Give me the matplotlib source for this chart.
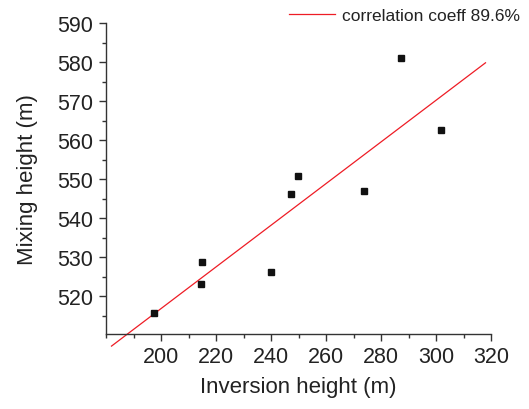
import numpy as np
import matplotlib
matplotlib.use('Agg')
import matplotlib.pyplot as plt
from matplotlib.ticker import MultipleLocator

plt.rcParams['font.family'] = ['Liberation Sans', 'DejaVu Sans']

# data
inversion = [197.5, 214.9, 214.5, 240.0, 247.3, 249.8, 273.8, 287.3, 301.9]
mixing = [515.6, 528.7, 523.1, 526.2, 546.2, 550.8, 546.9, 581.0, 562.6]
fit_x = [182.0, 318.0]
fit_y = [507.2, 579.8]

fig = plt.figure(figsize=(5.29, 4.10), dpi=100)
ax = fig.add_axes([106/529, 1-335/410, (491-106)/529, (335-24)/410])

ax.plot(fit_x, fit_y, color='#ee1c25', lw=0.9, clip_on=False,
        label='correlation coeff 89.6%')
ax.plot(inversion, mixing, 's', color='#111111', ms=4.5, clip_on=False)

ax.set_xlim(180, 320)
ax.set_ylim(510.3, 590)
ax.xaxis.set_minor_locator(MultipleLocator(10))
ax.yaxis.set_minor_locator(MultipleLocator(5))
ax.set_xticks(np.arange(200, 321, 20))
ax.set_yticks(np.arange(520, 591, 10))

for s in ['top', 'right']:
    ax.spines[s].set_visible(False)
for s in ['left', 'bottom']:
    ax.spines[s].set_linewidth(1.0)
    ax.spines[s].set_color('#333333')
ax.tick_params(which='major', direction='out', length=5, width=1, colors='#333333',
               labelsize=15.5, labelcolor='#222222', pad=4)
ax.tick_params(which='minor', direction='out', length=3, width=1, colors='#333333')

ax.set_xlabel('Inversion height (m)', fontsize=16, color='#222222', labelpad=6)
ax.set_ylabel('Mixing height (m)', fontsize=16, color='#222222', labelpad=14)

leg = fig.legend(loc='upper right', bbox_to_anchor=(1.0, 1.0), frameon=False,
                 fontsize=12.5, handlelength=2.7, handletextpad=0.4, borderaxespad=0.1)
for t in leg.get_texts():
    t.set_color('#222222')

plt.savefig('out.png', dpi=100)
